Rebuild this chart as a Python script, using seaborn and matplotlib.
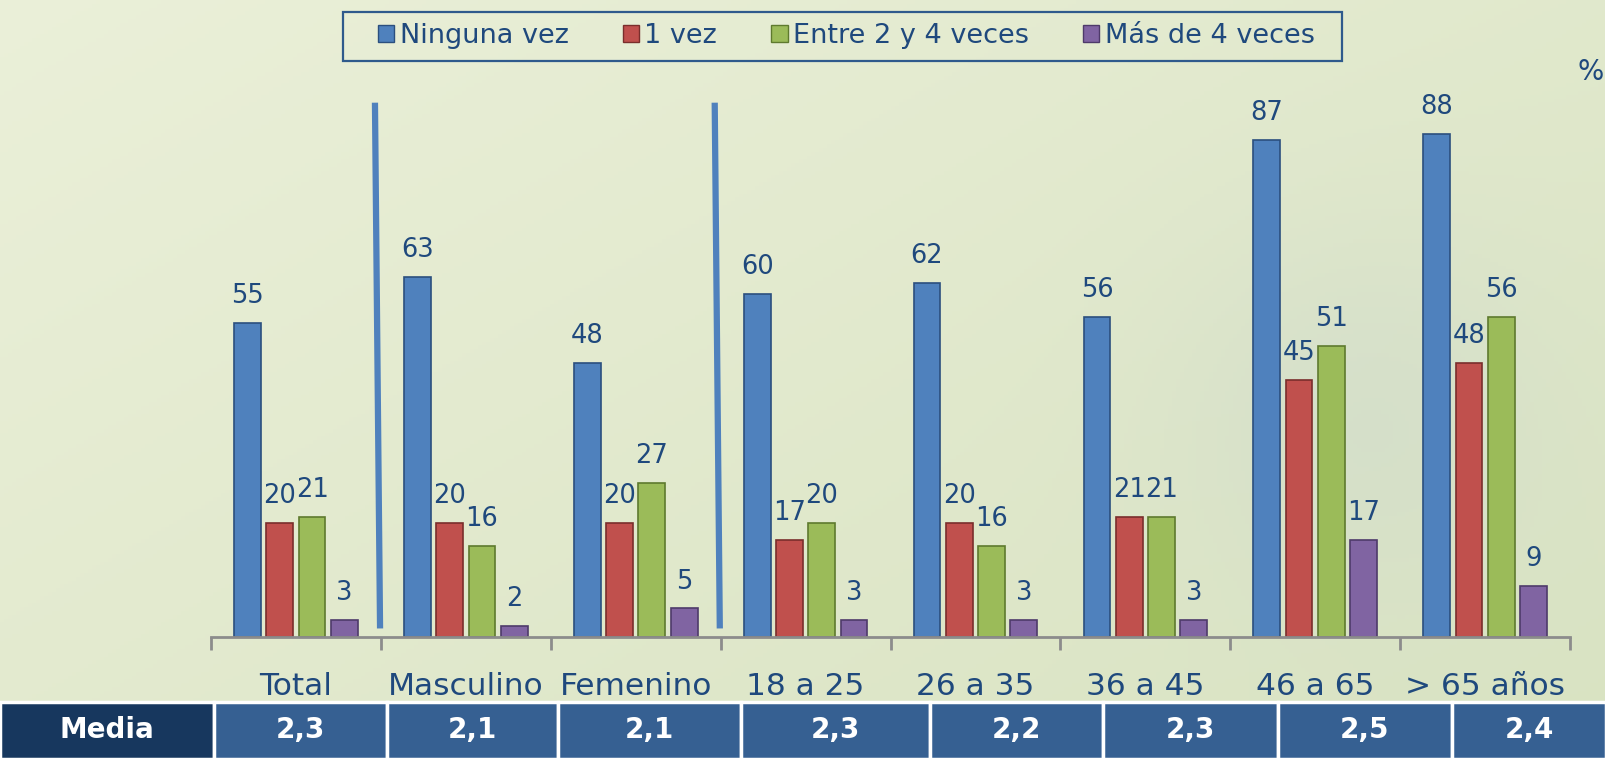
import numpy as np
import pandas as pd
import seaborn as sns
import matplotlib.pyplot as plt
from matplotlib.patches import Patch, Rectangle

categories = ["Total", "Masculino", "Femenino", "18 a 25", "26 a 35",
              "36 a 45", "46 a 65", "> 65 años"]
series = ["Ninguna vez", "1 vez", "Entre 2 y 4 veces", "Más de 4 veces"]
ninguna = [55, 63, 48, 60, 62, 56, 87, 88]
una_vez = [20, 20, 20, 17, 20, 21, 45, 48]
entre_2_4 = [21, 16, 27, 20, 16, 21, 51, 56]
mas_de_4 = [3, 2, 5, 3, 3, 3, 17, 9]
media = ["2,3", "2,1", "2,1", "2,3", "2,2", "2,3", "2,5", "2,4"]

colors = ["#4F81BD", "#C0504D", "#9BBB59", "#8064A2"]
edges = ["#2B4F7E", "#7A2E2C", "#5E7A2E", "#4E3A6A"]
text_blue = "#1F497D"

df = pd.DataFrame({
    "cat": categories * 4,
    "serie": np.repeat(series, len(categories)),
    "val": ninguna + una_vez + entre_2_4 + mas_de_4,
})

sns.set_style("white")
plt.rcParams["font.family"] = ["DejaVu Sans"]

fig = plt.figure(figsize=(16.06, 7.59), dpi=100)
W, H = 1606, 759

# soft green background
bg = fig.add_axes([0, 0, 1, 1], zorder=-10)
yy, xx = np.mgrid[0:1:200j, 0:1:400j]
c1 = np.array([0.92, 0.94, 0.85])
c2 = np.array([0.85, 0.89, 0.76])
t = np.clip(0.55 * xx + 0.45 * yy, 0, 1)[..., None]
img = c1 * (1 - t) + c2 * t
blob = np.exp(-(((xx - 0.85) / 0.12) ** 2 + ((yy - 0.55) / 0.25) ** 2))[..., None]
img = img * (1 - 0.35 * blob) + np.array([0.78, 0.83, 0.80]) * 0.35 * blob
bg.imshow(img, aspect="auto", extent=[0, 1, 0, 1], origin="upper")
bg.axis("off")

ax = fig.add_axes([0.1314, 0.1607, 0.8462, 0.7153])
ax.patch.set_alpha(0)
sns.barplot(data=df, x="cat", y="val", hue="serie", palette=colors,
            width=0.76, gap=0.17, ax=ax, legend=False, saturation=1)

for cont, ec in zip(ax.containers, edges):
    for bar in cont:
        bar.set_edgecolor(ec)
        bar.set_linewidth(1.2)
    ax.bar_label(cont, fontsize=18.5, color=text_blue, padding=10)

ax.set_xlim(-0.5, len(categories) - 0.5)
ax.set_ylim(0, 95)
ax.set_yticks([])
ax.set_xlabel("")
ax.set_ylabel("")
for s in ["top", "right", "left"]:
    ax.spines[s].set_visible(False)
ax.spines["bottom"].set_color("#8C8C8C")
ax.spines["bottom"].set_linewidth(2)

ax.set_xticks(np.arange(-0.5, len(categories), 1.0))
ax.set_xticklabels([])
ax.tick_params(axis="x", which="major", length=9, width=2, color="#8C8C8C",
               direction="out", bottom=True)
ax.set_xticks(np.arange(len(categories)), minor=True)
ax.set_xticklabels(categories, minor=True, fontsize=22.5, color=text_blue)
ax.tick_params(axis="x", which="minor", length=0, pad=25)

# blue separators between groups
for pos in [0.5, 2.5]:
    ax.plot([pos - 0.005, pos - 0.035], [1.5, 93.5], color="#4F81BD", lw=4.5,
            solid_capstyle="butt", zorder=5)

handles = [Patch(facecolor=c, edgecolor=e) for c, e in zip(colors, edges)]
leg = fig.legend(handles, series, loc="center", bbox_to_anchor=(0.527, 0.953),
                 ncol=4, fontsize=19.5, frameon=False,
                 handlelength=0.6, handleheight=0.6, handletextpad=0.2,
                 columnspacing=2.0)
for txt in leg.get_texts():
    txt.set_color(text_blue)
# legend box, wider than the entries as in the original
fig.patches.append(Rectangle((343 / W, 1 - 61 / H), (1342 - 343) / W, 49 / H,
                             transform=fig.transFigure, facecolor="none",
                             edgecolor="#2F5A8C", lw=1.6))

fig.text(0.982, 0.905, "%", fontsize=20, color=text_blue, ha="left", va="center")

# Media table
edges_px = [0, 214, 387, 558, 741, 930, 1103, 1278, 1452, 1606]
top = 57 / H
cells = ["Media"] + media
for i, label in enumerate(cells):
    x0 = edges_px[i] / W
    x1 = edges_px[i + 1] / W
    fc = "#17375E" if i == 0 else "#366092"
    fig.patches.append(Rectangle((x0, 0), x1 - x0, top, transform=fig.transFigure,
                                 facecolor=fc, edgecolor="white", lw=2.5))
    fig.text((x0 + x1) / 2, top / 2, label, ha="center", va="center",
             fontsize=20, fontweight="bold", color="white")

fig.savefig("out.png", dpi=100)
